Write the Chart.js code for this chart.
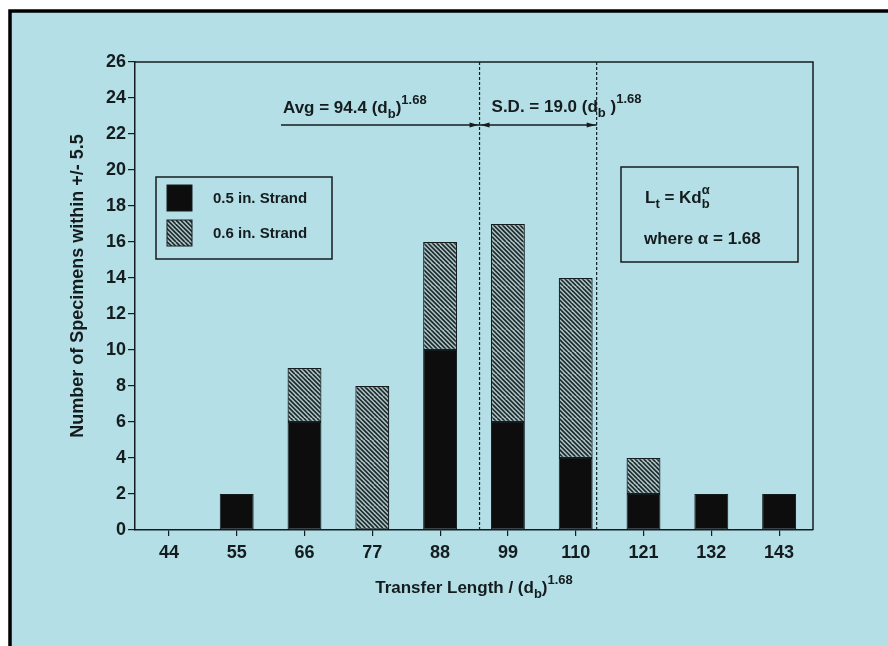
<!DOCTYPE html>
<html>
<head>
<meta charset="utf-8">
<script src="https://cdn.jsdelivr.net/npm/chart.js@4.4.1/dist/chart.umd.min.js"></script>
<style>
  html, body { margin: 0; padding: 0; background: #fff; }
  canvas { display: block; }
</style>
</head>
<body>
<canvas id="chart" width="888" height="646"></canvas>
<script>
// transfer length bins, center of each +/- 5.5 band
const categories = ['44', '55', '66', '77', '88', '99', '110', '121', '132', '143'];
const strand05 = [0, 2, 6, 0, 10, 6, 4, 2, 2, 2];
const strand06 = [0, 0, 3, 8, 6, 11, 10, 2, 0, 0];
const seriesLabels = ['0.5 in. Strand', '0.6 in. Strand'];

const avgValue = 94.4;
const sdValue = 19.0;
const arrowLevel = 22.5;
const exponent = '1.68';

const bg = '#b4dfe7';
const ink = '#141c1e';
const FONT = '"Liberation Sans", Arial, sans-serif';

// hatch pattern for the 0.6 in. strand
function makeHatch() {
    const s = 4.4;
    const c = document.createElement('canvas');
    c.width = c.height = 22;
    const g = c.getContext('2d');
    g.fillStyle = '#b3c6c8';
    g.fillRect(0, 0, 22, 22);
    g.strokeStyle = '#1b2b2d';
    g.lineWidth = 1.7;
    for (let k = -22; k < 44; k += s) {
        g.beginPath();
        g.moveTo(k, 0);
        g.lineTo(k + 22, 22);
        g.stroke();
    }
    return document.getElementById('chart').getContext('2d').createPattern(c, 'repeat');
}
const hatch = makeHatch();

function richWidth(ctx, parts, size) {
    let w = 0;
    parts.forEach(p => {
        const small = p[1] !== 'n';
        ctx.font = 'bold ' + (small ? Math.round(size * 0.75) : size) + 'px ' + FONT;
        if (!p[2]) w += ctx.measureText(p[0]).width;
    });
    return w;
}

function drawRich(ctx, x, y, parts, size) {
    parts.forEach(p => {
        const kind = p[1];
        const small = kind !== 'n';
        ctx.font = 'bold ' + (small ? Math.round(size * 0.75) : size) + 'px ' + FONT;
        let dy = 0;
        if (kind === 'sub') dy = size * 0.3;
        if (kind === 'sup') dy = -size * 0.55;
        ctx.fillText(p[0], x, y + dy);
        if (!p[2]) x += ctx.measureText(p[0]).width;
    });
    return x;
}

function arrowHead(ctx, x, y, dir) {
    ctx.beginPath();
    ctx.moveTo(x, y);
    ctx.lineTo(x - dir * 9, y - 2.5);
    ctx.lineTo(x - dir * 9, y + 2.5);
    ctx.closePath();
    ctx.fill();
}

const paperPlugin = {
    id: 'paper',
    beforeDraw(chart) {
        const ctx = chart.ctx;
        const w = chart.width, h = chart.height;
        ctx.save();
        ctx.fillStyle = '#fff';
        ctx.fillRect(0, 0, w, h);
        ctx.fillStyle = bg;
        ctx.fillRect(10, 11, w, h);
        ctx.strokeStyle = '#000';
        ctx.lineWidth = 3.5;
        ctx.beginPath();
        ctx.moveTo(10, h);
        ctx.lineTo(10, 11);
        ctx.lineTo(w, 11);
        ctx.stroke();
        ctx.restore();
    },
    afterDraw(chart) {
        const ctx = chart.ctx;
        const a = chart.chartArea;
        const xs = chart.scales.x, ys = chart.scales.y;
        const first = Number(categories[0]);
        const step = Number(categories[1]) - first;
        const xPix = v => xs.getPixelForValue((v - first) / step);

        ctx.save();
        ctx.fillStyle = ink;
        ctx.strokeStyle = ink;

        // plot frame
        ctx.lineWidth = 1.5;
        ctx.beginPath();
        ctx.moveTo(a.left, a.top);
        ctx.lineTo(a.right, a.top);
        ctx.lineTo(a.right, a.bottom);
        ctx.stroke();

        // average and average + S.D. lines
        const xAvg = xPix(avgValue);
        const xSd = xPix(avgValue + sdValue);
        ctx.lineWidth = 1.2;
        ctx.setLineDash([3, 2]);
        [xAvg, xSd].forEach(px => {
            ctx.beginPath();
            ctx.moveTo(px, a.top);
            ctx.lineTo(px, a.bottom);
            ctx.stroke();
        });
        ctx.setLineDash([]);

        const yArrow = ys.getPixelForValue(arrowLevel);
        const textLeft = 283;
        ctx.lineWidth = 1.5;
        ctx.beginPath();
        ctx.moveTo(textLeft - 2, yArrow);
        ctx.lineTo(xSd, yArrow);
        ctx.stroke();
        arrowHead(ctx, xAvg - 1, yArrow, 1);
        arrowHead(ctx, xAvg + 1, yArrow, -1);
        arrowHead(ctx, xSd - 1, yArrow, 1);

        ctx.textBaseline = 'alphabetic';
        ctx.textAlign = 'left';
        drawRich(ctx, textLeft, yArrow - 12, [
            ['Avg = ' + avgValue.toFixed(1) + ' (d', 'n'], ['b', 'sub'], [')', 'n'], [exponent, 'sup']
        ], 17);
        drawRich(ctx, xAvg + 12, yArrow - 13, [
            ['S.D. = ' + sdValue.toFixed(1) + ' (d', 'n'], ['b', 'sub'], [' )', 'n'], [exponent, 'sup']
        ], 17);

        // legend box
        ctx.lineWidth = 1.5;
        ctx.strokeRect(156, 177, 176, 82);
        const fills = ['#0d0d0d', hatch];
        [198, 233].forEach((cy, i) => {
            ctx.fillStyle = fills[i];
            ctx.fillRect(167, cy - 13, 25, 26);
            ctx.lineWidth = 1;
            ctx.strokeRect(167, cy - 13, 25, 26);
            ctx.fillStyle = ink;
            ctx.font = 'bold 15px ' + FONT;
            ctx.textBaseline = 'middle';
            ctx.fillText(seriesLabels[i], 213, cy + 1);
        });

        // formula box
        ctx.textBaseline = 'alphabetic';
        ctx.lineWidth = 1.5;
        ctx.strokeRect(621, 167, 177, 95);
        drawRich(ctx, 645, 203, [
            ['L', 'n'], ['t', 'sub'], [' = Kd', 'n'], ['b', 'sub', true], ['\u03b1', 'sup']
        ], 17);
        ctx.font = 'bold 17px ' + FONT;
        ctx.fillText('where \u03b1 = ' + exponent, 644, 244);

        // axis titles
        const xt = [['Transfer Length / (d', 'n'], ['b', 'sub'], [')', 'n'], [exponent, 'sup']];
        const wt = richWidth(ctx, xt, 17);
        drawRich(ctx, (a.left + a.right) / 2 - wt / 2, 593, xt, 17);

        ctx.translate(83, (a.top + a.bottom) / 2 - 10);
        ctx.rotate(-Math.PI / 2);
        ctx.textAlign = 'center';
        ctx.font = 'bold 18px ' + FONT;
        ctx.fillText('Number of Specimens within +/- 5.5', 0, 0);
        ctx.restore();
    }
};

new Chart(document.getElementById('chart'), {
    type: 'bar',
    data: {
        labels: categories,
        datasets: [
            {
                label: seriesLabels[0],
                data: strand05,
                backgroundColor: '#0d0d0d',
                borderColor: ink,
                borderWidth: c => (c.raw ? 1 : 0),
                borderSkipped: false
            },
            {
                label: seriesLabels[1],
                data: strand06,
                backgroundColor: hatch,
                borderColor: ink,
                borderWidth: c => (c.raw ? 1.2 : 0),
                borderSkipped: false
            }
        ]
    },
    options: {
        responsive: false,
        animation: false,
        layout: { padding: { top: 62, right: 75, left: 0, bottom: 0 } },
        datasets: { bar: { categoryPercentage: 1, barPercentage: 0.5 } },
        plugins: {
            legend: { display: false },
            tooltip: { enabled: false }
        },
        scales: {
            x: {
                stacked: true,
                afterFit: s => { s.height = 116; },
                grid: { offset: false, drawOnChartArea: false, drawTicks: true, tickLength: 6, color: ink, lineWidth: 1.2 },
                border: { display: true, color: ink, width: 1.5 },
                ticks: { color: ink, padding: 6, maxRotation: 0, font: { family: FONT, size: 18, weight: 'bold' } }
            },
            y: {
                stacked: true,
                min: 0,
                max: 26,
                afterFit: s => { s.width = 135; },
                grid: { drawOnChartArea: false, drawTicks: true, tickLength: 7, color: ink, lineWidth: 1.2 },
                border: { display: true, color: ink, width: 1.5 },
                ticks: { stepSize: 2, color: ink, padding: 2, font: { family: FONT, size: 18, weight: 'bold' } }
            }
        }
    },
    plugins: [paperPlugin]
});
</script>
</body>
</html>
